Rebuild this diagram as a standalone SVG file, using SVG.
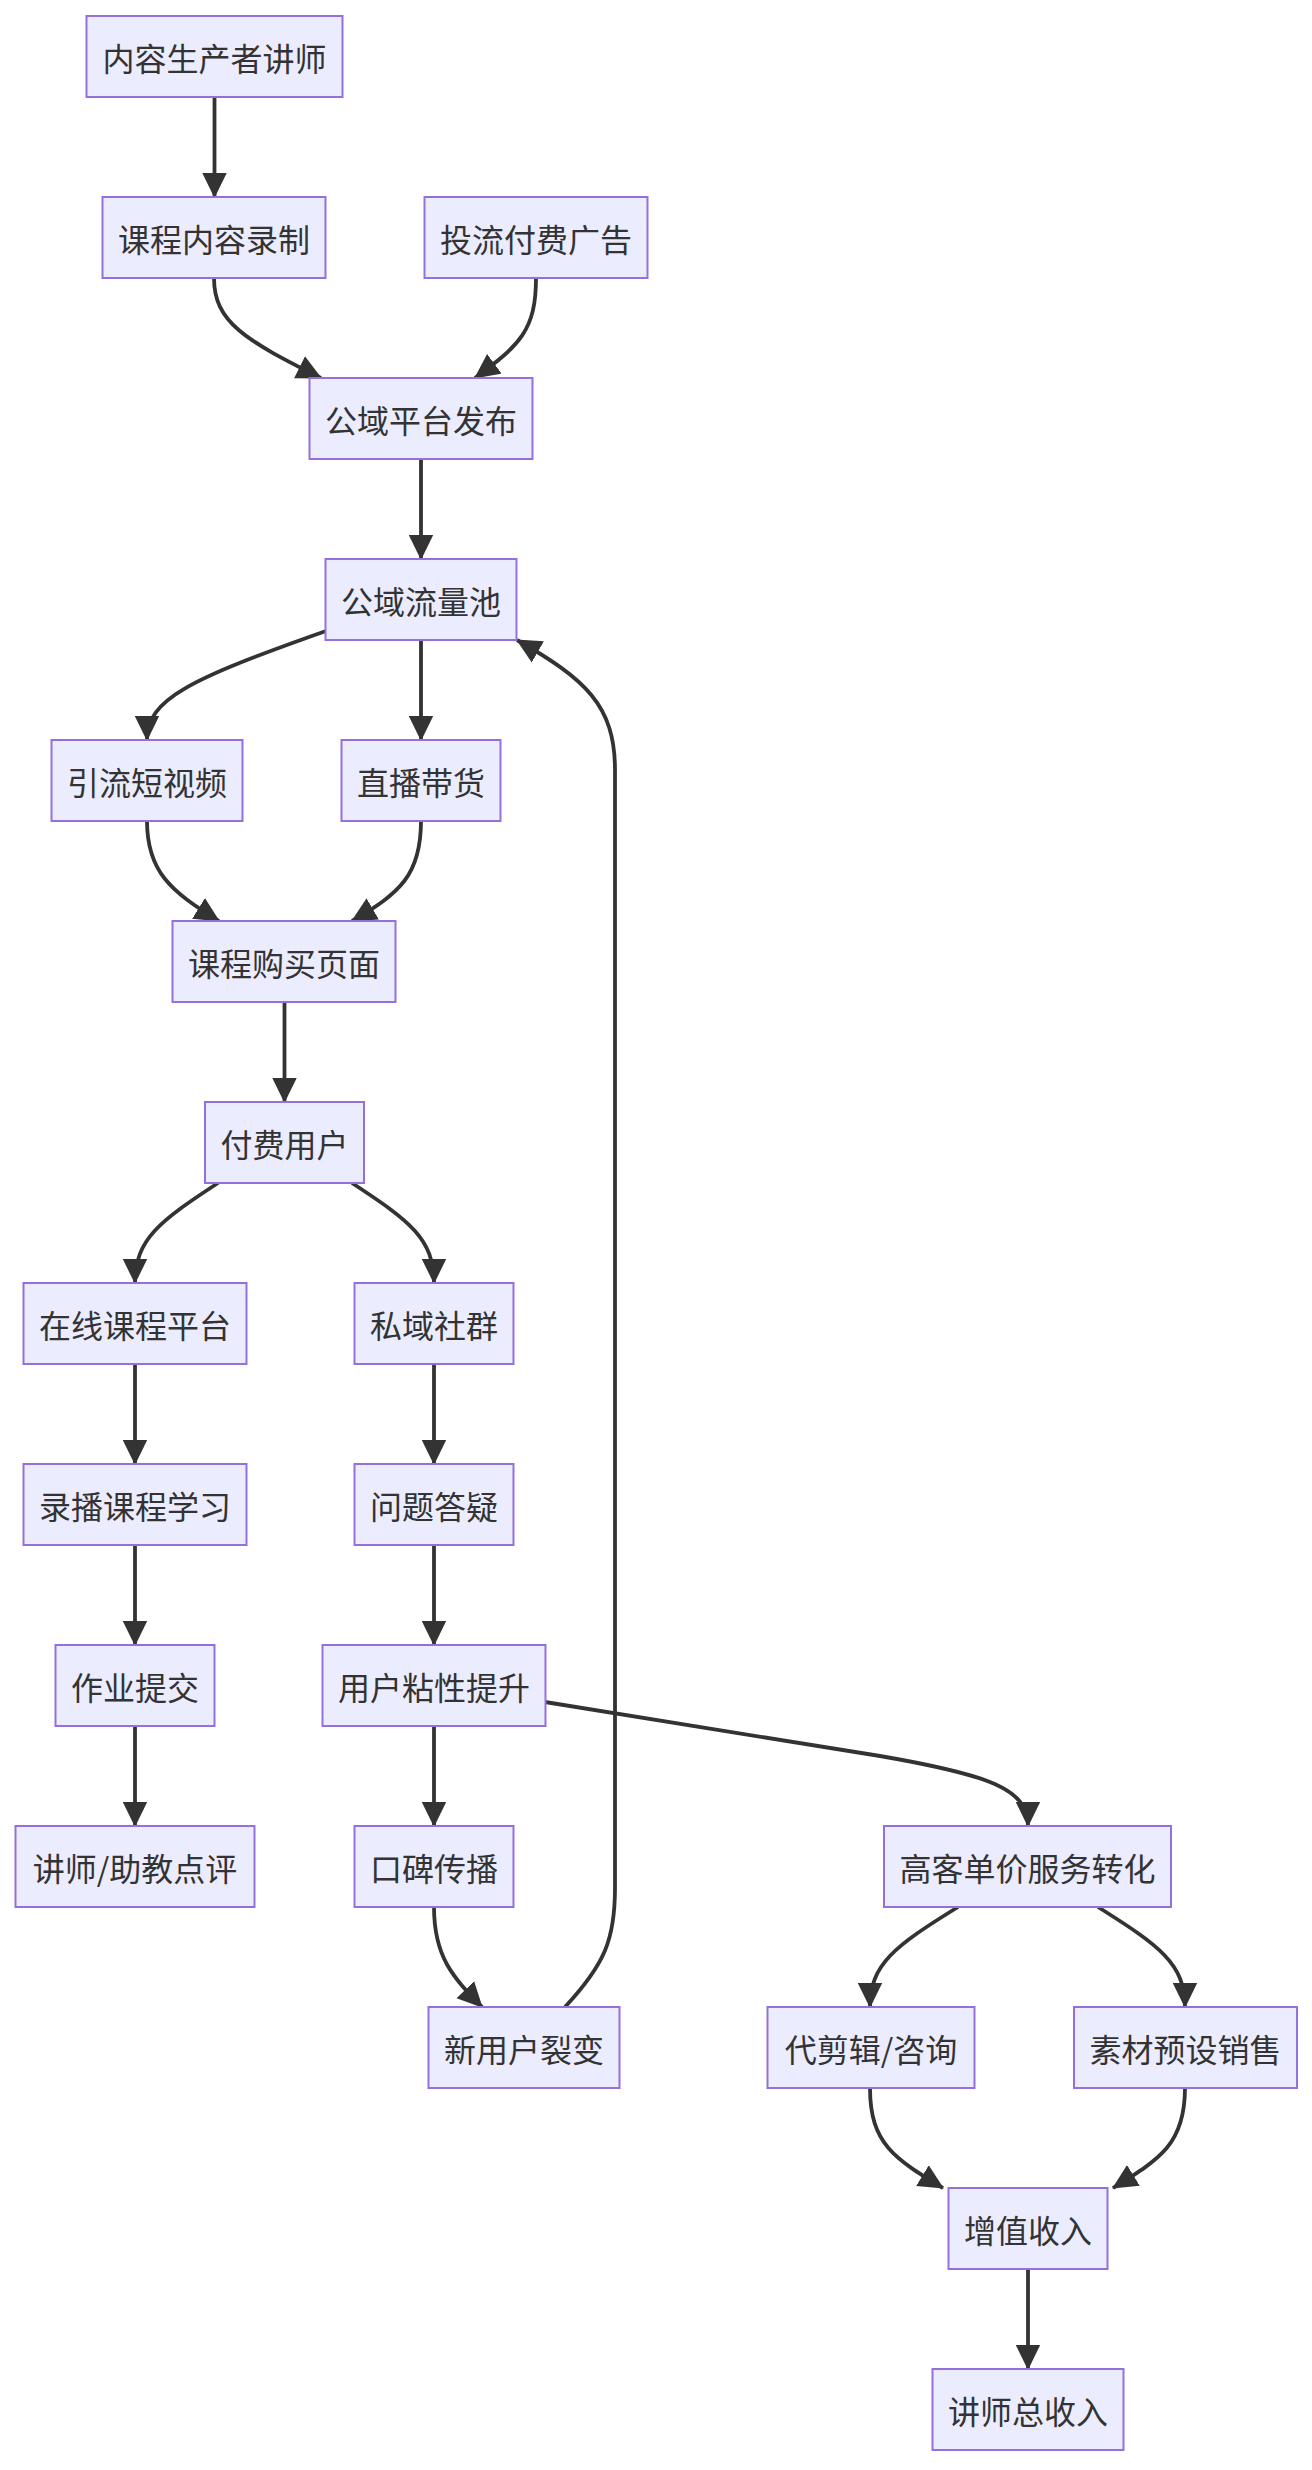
<svg xmlns="http://www.w3.org/2000/svg" width="1312" height="2470" viewBox="0 0 1312 2470">
<defs>
<marker id="arr" viewBox="0 0 25 25" refX="24" refY="12.5" markerWidth="25" markerHeight="25" markerUnits="userSpaceOnUse" orient="auto">
<path d="M0,0.3 L25,12.5 L0,24.7 z" fill="#333333"/>
</marker>
<style>
.n rect{fill:#ECECFF;stroke:#9370DB;stroke-width:2}
.n text{font-family:"Noto Sans CJK SC","Noto Sans",sans-serif;font-size:32px;fill:#333333;text-anchor:middle;dominant-baseline:central}
.e path{fill:none;stroke:#333333;stroke-width:3.8;marker-end:url(#arr)}
</style>
</defs>
<rect width="1312" height="2470" fill="#ffffff"/>
<g id="edges" class="e">
<path d="M214.5,97 L214.5,197"/>
<path d="M214,278 C214,322 245,340 321,378"/>
<path d="M536,278 C536,330 520,345 475,378"/>
<path d="M421,459 L421,559"/>
<path d="M326,631 C190,679 147,699 147,740"/>
<path d="M421,640 L421,740"/>
<path d="M147,821 C147,871 170,891 219,921"/>
<path d="M421,821 C421,875 400,893 352,921"/>
<path d="M284.5,1002 L284.5,1102"/>
<path d="M218,1183 C160,1221 135,1239 135,1283"/>
<path d="M352,1183 C410,1221 434,1239 434,1283"/>
<path d="M135,1364 L135,1464"/>
<path d="M434,1364 L434,1464"/>
<path d="M135,1545 L135,1645"/>
<path d="M434,1545 L434,1645"/>
<path d="M135,1726 L135,1826"/>
<path d="M434,1726 L434,1826"/>
<path d="M545,1702 L880,1756 C990,1775 1028,1789 1028,1826"/>
<path d="M434,1907 C434,1959 455,1979 482,2007"/>
<path d="M565,2007 C605,1964 615,1939 615,1888 L615,770 C615,705 585,679 517,640"/>
<path d="M958,1907 C895,1946 870,1964 870,2007"/>
<path d="M1098,1907 C1160,1946 1185,1964 1185,2007"/>
<path d="M870,2088 C870,2144 895,2159 943,2188"/>
<path d="M1185,2088 C1185,2144 1160,2159 1113,2188"/>
<path d="M1028,2269 L1028,2369"/>
</g>
<g id="A" class="n"><rect x="86.5" y="16" width="256" height="81"/><text x="214.5" y="56.5">内容生产者讲师</text></g>
<g id="B" class="n"><rect x="102.5" y="197" width="223" height="81"/><text x="214" y="237.5">课程内容录制</text></g>
<g id="C" class="n"><rect x="424.5" y="197" width="223" height="81"/><text x="536" y="237.5">投流付费广告</text></g>
<g id="D" class="n"><rect x="309.5" y="378" width="223" height="81"/><text x="421" y="418.5">公域平台发布</text></g>
<g id="E" class="n"><rect x="325.5" y="559" width="191" height="81"/><text x="421" y="599.5">公域流量池</text></g>
<g id="F" class="n"><rect x="51.5" y="740" width="191" height="81"/><text x="147" y="780.5">引流短视频</text></g>
<g id="G" class="n"><rect x="341.5" y="740" width="159" height="81"/><text x="421" y="780.5">直播带货</text></g>
<g id="H" class="n"><rect x="172.5" y="921" width="223" height="81"/><text x="284" y="961.5">课程购买页面</text></g>
<g id="I" class="n"><rect x="205" y="1102" width="159" height="81"/><text x="284.5" y="1142.5">付费用户</text></g>
<g id="J" class="n"><rect x="23.5" y="1283" width="223" height="81"/><text x="135" y="1323.5">在线课程平台</text></g>
<g id="K" class="n"><rect x="354.5" y="1283" width="159" height="81"/><text x="434" y="1323.5">私域社群</text></g>
<g id="L" class="n"><rect x="23.5" y="1464" width="223" height="81"/><text x="135" y="1504.5">录播课程学习</text></g>
<g id="M" class="n"><rect x="354.5" y="1464" width="159" height="81"/><text x="434" y="1504.5">问题答疑</text></g>
<g id="N" class="n"><rect x="55.5" y="1645" width="159" height="81"/><text x="135" y="1685.5">作业提交</text></g>
<g id="O" class="n"><rect x="322.5" y="1645" width="223" height="81"/><text x="434" y="1685.5">用户粘性提升</text></g>
<g id="P" class="n"><rect x="15.5" y="1826" width="239" height="81"/><text x="135" y="1866.5">讲师/助教点评</text></g>
<g id="Q" class="n"><rect x="354.5" y="1826" width="159" height="81"/><text x="434" y="1866.5">口碑传播</text></g>
<g id="R" class="n"><rect x="884" y="1826" width="287" height="81"/><text x="1027.5" y="1866.5">高客单价服务转化</text></g>
<g id="S" class="n"><rect x="428.5" y="2007" width="191" height="81"/><text x="524" y="2047.5">新用户裂变</text></g>
<g id="T" class="n"><rect x="767.5" y="2007" width="207" height="81"/><text x="871" y="2047.5">代剪辑/咨询</text></g>
<g id="U" class="n"><rect x="1074" y="2007" width="223" height="81"/><text x="1185.5" y="2047.5">素材预设销售</text></g>
<g id="V" class="n"><rect x="948.5" y="2188" width="159" height="81"/><text x="1028" y="2228.5">增值收入</text></g>
<g id="W" class="n"><rect x="932.5" y="2369" width="191" height="81"/><text x="1028" y="2409.5">讲师总收入</text></g>
</svg>
